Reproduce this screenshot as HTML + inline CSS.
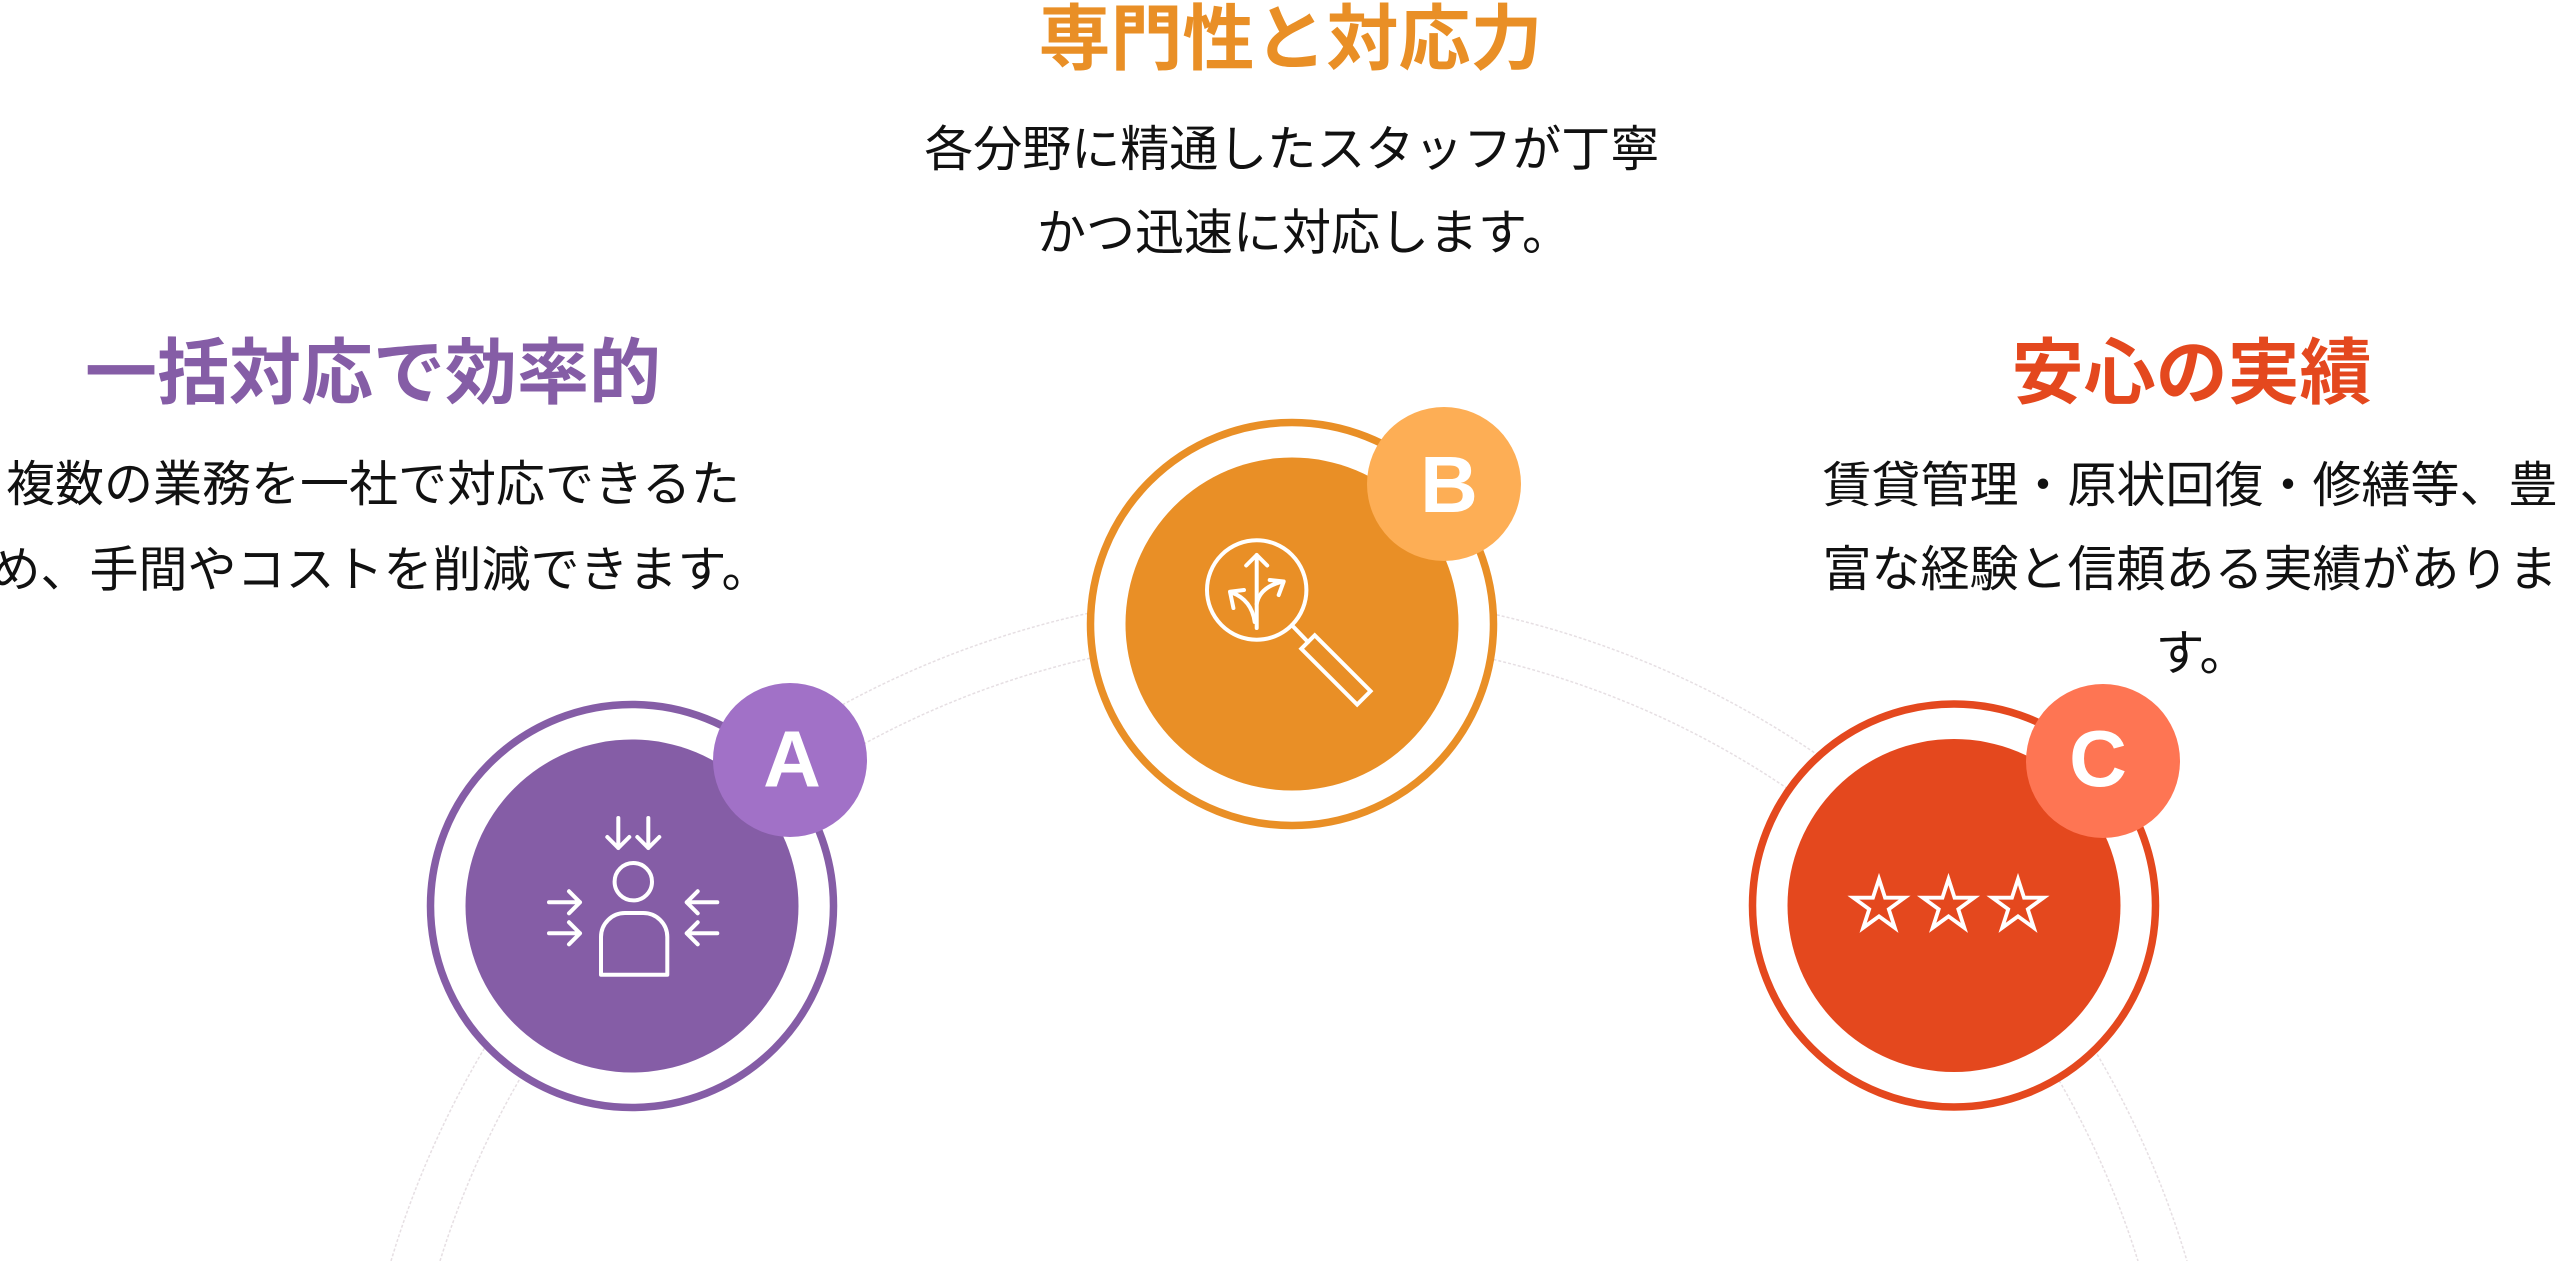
<!DOCTYPE html>
<html>
<head>
<meta charset="utf-8">
<style>
html,body{margin:0;padding:0;background:#fff;width:2560px;height:1261px;overflow:hidden;}
svg{display:block;overflow:hidden;}
.t{font-family:"Liberation Sans","Noto Sans CJK JP",sans-serif;}
</style>
</head>
<body>
<svg width="2560" height="1261" viewBox="0 0 2560 1261" xmlns="http://www.w3.org/2000/svg">
  <defs>
    <clipPath id="frame"><rect x="0" y="0" width="2560" height="1261"/></clipPath>
  </defs>
  <rect width="2560" height="1261" fill="#fff"/>
  <!-- faint arcs -->
  <g clip-path="url(#frame)">
    <path d="M391,1261 A937,937 0 0 1 2187,1261" fill="none" stroke="#e6dfe3" stroke-width="1.5" stroke-dasharray="3 2"/>
    <path d="M440,1261 A889,889 0 0 1 2138,1261" fill="none" stroke="#e6dfe3" stroke-width="1.5" stroke-dasharray="3 2"/>
  </g>

  <!-- ===== A ===== -->
  <circle cx="632" cy="906" r="201.5" fill="#fff" stroke="#855da6" stroke-width="7.5"/>
  <circle cx="632" cy="906" r="166.5" fill="#855da6"/>
  <g fill="none" stroke="#fff" stroke-width="4" stroke-linecap="round" stroke-linejoin="round">
    <path d="M618.3,818 V848 M607.3,837 L618.3,848 L629.3,837 M648.3,818 V848 M637.3,837 L648.3,848 L659.3,837"/>
    <circle cx="633.3" cy="881.7" r="18.7"/>
    <path d="M601,974.7 V937 A24,24 0 0 1 625,913 H643.3 A24,24 0 0 1 667.3,937 V974.7 Z"/>
    <path d="M549,902.3 H580 M569,891.3 L580,902.3 L569,913.3 M549,933.3 H580 M569,922.3 L580,933.3 L569,944.3"/>
    <path d="M717.3,902.3 H686.7 M697.7,891.3 L686.7,902.3 L697.7,913.3 M717.3,933.3 H686.7 M697.7,922.3 L686.7,933.3 L697.7,944.3"/>
  </g>
  <circle cx="790" cy="760" r="77" fill="#a171c7"/>
  <text x="792" y="786.5" font-family="Liberation Sans, sans-serif" font-weight="700" font-size="80" fill="#fff" text-anchor="middle">A</text>

  <!-- ===== B ===== -->
  <circle cx="1292" cy="624" r="201.5" fill="#fff" stroke="#e98f26" stroke-width="7.5"/>
  <circle cx="1292" cy="624" r="166.5" fill="#e98f26"/>
  <g fill="none" stroke="#fff" stroke-width="4" stroke-linecap="round" stroke-linejoin="round">
    <circle cx="1256.7" cy="590" r="49.7"/>
    <path d="M1291.8,625.1 L1308,642"/>
    <rect x="-9.5" y="0" width="19" height="79" transform="translate(1308,642) rotate(-45)" stroke-linejoin="miter"/>
    <g transform="translate(1256.7,590)">
      <path d="M0,38 V-35 M-10.5,-24.5 L0,-35 L10.5,-24.5"/>
      <path d="M0,14 Q3,-3 26,-8.5 M13,-10 L27,-8.5 L22,5"/>
      <path d="M-2,32 Q-5,10 -25,2.5 M-12.7,0 L-26.7,1.7 L-23.3,18"/>
    </g>
  </g>
  <circle cx="1444" cy="484" r="77" fill="#fdae55"/>
  <text x="1449" y="512" font-family="Liberation Sans, sans-serif" font-weight="700" font-size="80" fill="#fff" text-anchor="middle">B</text>

  <!-- ===== C ===== -->
  <circle cx="1954" cy="905.5" r="201.5" fill="#fff" stroke="#e4481e" stroke-width="7.5"/>
  <circle cx="1954" cy="905.5" r="166.5" fill="#e4481e"/>
  <g fill="none" stroke="#fff" stroke-width="3.8" stroke-linejoin="miter">
    <polygon transform="translate(1879,906)" points="0,-27 6.05,-8.33 25.68,-8.34 9.8,3.18 15.87,21.84 0,10.3 -15.87,21.84 -9.8,3.18 -25.68,-8.34 -6.05,-8.33"/>
    <polygon transform="translate(1948.5,906)" points="0,-27 6.05,-8.33 25.68,-8.34 9.8,3.18 15.87,21.84 0,10.3 -15.87,21.84 -9.8,3.18 -25.68,-8.34 -6.05,-8.33"/>
    <polygon transform="translate(2018,906)" points="0,-27 6.05,-8.33 25.68,-8.34 9.8,3.18 15.87,21.84 0,10.3 -15.87,21.84 -9.8,3.18 -25.68,-8.34 -6.05,-8.33"/>
  </g>
  <circle cx="2103" cy="761" r="77" fill="#fe7553"/>
  <text x="2098" y="786" font-family="Liberation Sans, sans-serif" font-weight="700" font-size="80" fill="#fff" text-anchor="middle">C</text>

  <!-- ===== Texts ===== -->
  <g class="t" text-anchor="middle">
    <text x="373" y="398" font-size="72" font-weight="700" fill="#855da6">一括対応で効率的</text>
    <text x="1290.5" y="64" font-size="72" font-weight="700" fill="#e98f26">専門性と対応力</text>
    <text x="2191.6" y="398" font-size="72" font-weight="700" fill="#e4481e">安心の実績</text>

    <g font-size="49" fill="#111">
      <text x="373" y="501">複数の業務を一社で対応できるた</text>
      <text x="381" y="586.5">め、手間やコストを削減できます。</text>

      <text x="1291.7" y="166">各分野に精通したスタッフが丁寧</text>
      <text x="1304" y="249.5">かつ迅速に対応します。</text>

      <text x="2190" y="502">賃貸管理・原状回復・修繕等、豊</text>
      <text x="2190" y="586">富な経験と信頼ある実績がありま</text>
      <text x="2202" y="670">す。</text>
    </g>
  </g>
</svg>
</body>
</html>
